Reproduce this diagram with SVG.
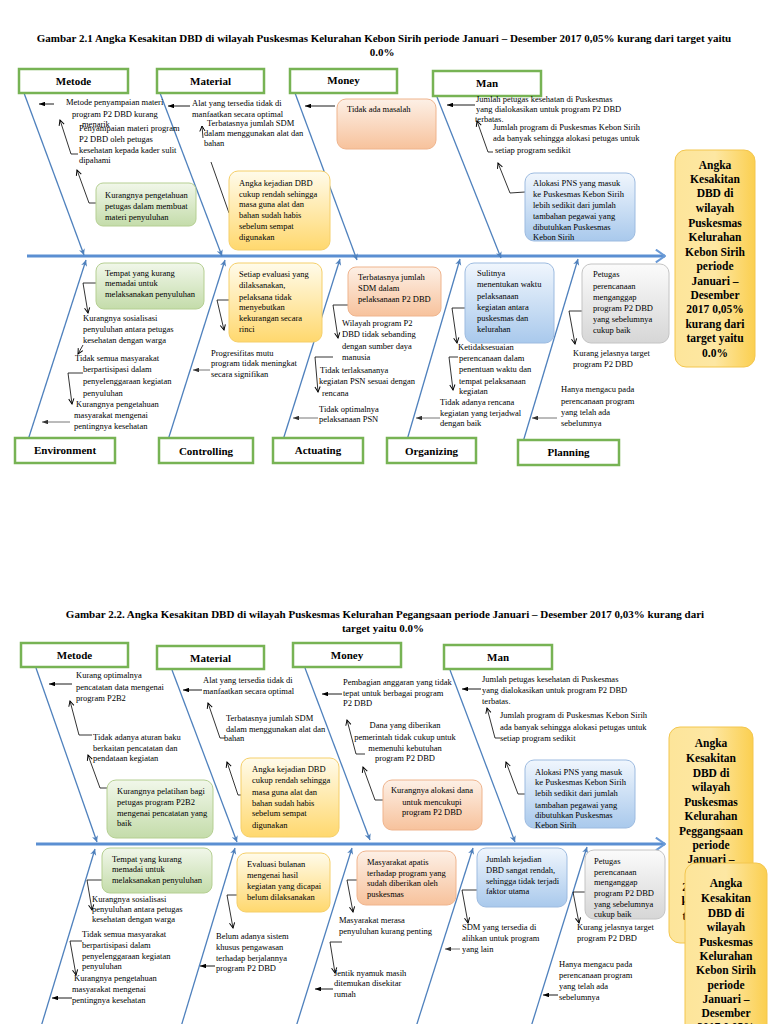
<svg xmlns="http://www.w3.org/2000/svg" width="768" height="1024" viewBox="0 0 768 1024">
<defs>
<style>
.t{font-family:"Liberation Serif","Times New Roman",serif;font-size:8.5px;fill:#000}
.tm{font-family:"Liberation Serif","Times New Roman",serif;font-size:8.5px;fill:#000;text-anchor:middle}
.h{font-family:"Liberation Serif","Times New Roman",serif;font-size:11px;font-weight:bold;fill:#000;text-anchor:middle}
.e{font-family:"Liberation Serif","Times New Roman",serif;font-size:11.5px;font-weight:bold;fill:#000;text-anchor:middle}
.ti{font-family:"Liberation Serif","Times New Roman",serif;font-size:11px;font-weight:bold;fill:#000}
.hdr{fill:#fff;stroke:#77b354;stroke-width:2.5}
.bone{stroke:#4f81bd;stroke-width:1.3;fill:none;marker-end:url(#ba)}
.spine{stroke:#5b8fd2;stroke-width:3;fill:none;marker-end:url(#sa)}
.c{stroke:#000;stroke-width:0.8;fill:none;marker-end:url(#oa)}
.ha{stroke:#000;stroke-width:0.9;fill:none;marker-end:url(#fa)}
.hg{stroke:#777;stroke-width:1;fill:none;marker-end:url(#fg)}
.ln{stroke:#000;stroke-width:0.8;fill:none}
.gb{fill:url(#gG);stroke:#b5cf92;stroke-width:1}
.yb{fill:url(#gY);stroke:#f5cf6a;stroke-width:1}
.ob{fill:url(#gO);stroke:#efb48d;stroke-width:1}
.bb{fill:url(#gB);stroke:#9dbbe0;stroke-width:1}
.sb{fill:url(#gS);stroke:#c4c4c4;stroke-width:1}
.eb{fill:url(#gE);stroke:#f3c64e;stroke-width:1}
</style>
<linearGradient id="gG" x1="0" y1="0" x2="0" y2="1"><stop offset="0" stop-color="#f1f7ea"/><stop offset="1" stop-color="#c4dcaa"/></linearGradient>
<linearGradient id="gY" x1="0" y1="0" x2="0" y2="1"><stop offset="0" stop-color="#fffbea"/><stop offset="1" stop-color="#ffd86e"/></linearGradient>
<linearGradient id="gO" x1="0" y1="0" x2="0" y2="1"><stop offset="0" stop-color="#fdf0e6"/><stop offset="1" stop-color="#f7c29c"/></linearGradient>
<linearGradient id="gB" x1="0" y1="0" x2="0" y2="1"><stop offset="0" stop-color="#f0f6fd"/><stop offset="1" stop-color="#a9c9ec"/></linearGradient>
<linearGradient id="gS" x1="0" y1="0" x2="0" y2="1"><stop offset="0" stop-color="#fbfbfb"/><stop offset="1" stop-color="#d6d6d6"/></linearGradient>
<linearGradient id="gE" x1="0" y1="0" x2="1" y2="0"><stop offset="0" stop-color="#fde59a"/><stop offset="0.5" stop-color="#fde7a3"/><stop offset="1" stop-color="#fbcf50"/></linearGradient>
<marker id="oa" viewBox="0 0 8 8" refX="7" refY="4" markerWidth="7" markerHeight="7" markerUnits="userSpaceOnUse" orient="auto"><path d="M1,1 L7,4 L1,7" fill="none" stroke="#000" stroke-width="1.1"/></marker>
<marker id="fa" viewBox="0 0 8 6" refX="8" refY="3" markerWidth="6" markerHeight="4.5" markerUnits="userSpaceOnUse" orient="auto"><path d="M0,0 L8,3 L0,6 Z" fill="#000"/></marker>
<marker id="fg" viewBox="0 0 8 6" refX="8" refY="3" markerWidth="6" markerHeight="4.5" markerUnits="userSpaceOnUse" orient="auto"><path d="M0,0 L8,3 L0,6 Z" fill="#333"/></marker>
<marker id="ba" viewBox="0 0 8 8" refX="7" refY="4" markerWidth="7" markerHeight="7" markerUnits="userSpaceOnUse" orient="auto"><path d="M0,0.5 L7,4 L0,7.5 L2,4 Z" fill="#4f81bd"/></marker>
<marker id="sa" viewBox="0 0 12 16" refX="11" refY="8" markerWidth="11" markerHeight="15" markerUnits="userSpaceOnUse" orient="auto"><path d="M1,1 L11,8 L1,15" fill="none" stroke="#6a9ad6" stroke-width="2.2"/></marker>
</defs>
<rect width="768" height="1024" fill="#fff"/>

<!-- ================= DIAGRAM 1 ================= -->
<g id="title-1">
<text class="ti" x="384" y="42" text-anchor="middle">Gambar 2.1 Angka Kesakitan DBD di wilayah Puskesmas Kelurahan Kebon Sirih periode Januari – Desember 2017 0,05%  kurang dari target yaitu</text>
<text class="ti" x="382" y="56" text-anchor="middle">0.0%</text>
</g>

<g id="connectors-1">
<path class="spine" d="M27,256 L665,256"/>
<path class="bone" d="M24,93 L84,255"/>
<path class="bone" d="M160,93 L222,256"/>
<path class="bone" d="M295,93 L357,260"/>
<path class="bone" d="M437,97 L501,258"/>
<path class="bone" d="M28,440 L86,260"/>
<path class="bone" d="M168,440 L225,260"/>
<path class="bone" d="M283,440 L340,259"/>
<path class="bone" d="M407,440 L460,259"/>
<path class="bone" d="M523,442 L578,259"/>
<path class="ha" d="M54,104 L39,104"/>
<path class="c" d="M78,154 L71,154 L60,120"/>
<path class="c" d="M96,203 L89,203 L77,170"/>
<path class="ha" d="M190,106 L168,106"/>
<path class="c" d="M203,138 L202,126"/>
<path class="ln" d="M211,162 L229,213"/>
<path class="ha" d="M335,106 L305,106"/>
<path class="ha" d="M475,105 L447,105"/>
<path class="c" d="M493,152 L488,152 L477,121"/>
<path class="c" d="M525,192 L510,193 L498,163"/>
<path class="c" d="M96,283 L83,283 L88,313"/>
<path class="c" d="M83,345 L78,354"/>
<path class="c" d="M83,373 L68,373 L72,404"/>
<path class="hg" d="M70,422 L42,422"/>
<path class="c" d="M229,300 L217,300 L224,330"/>
<path class="hg" d="M210,370 L193,370"/>
<path class="c" d="M348,305 L333,305 L338,338"/>
<path class="c" d="M333,357 L315,357 L318,392"/>
<path class="hg" d="M318,418 L293,418"/>
<path class="c" d="M465,308 L452,308 L457,343"/>
<path class="c" d="M458,357 L449,357 L453,390"/>
<path class="hg" d="M440,418 L416,418"/>
<path class="c" d="M582,311 L569,311 L575,344"/>
<path class="hg" d="M557,418 L532,418"/>
</g>

<g id="d1-metode"><rect class="hdr" x="19" y="69" width="109" height="24"/><text class="h" x="73.5" y="85">Metode</text></g>
<g id="d1-material"><rect class="hdr" x="157" y="69" width="107" height="24"/><text class="h" x="210.5" y="85">Material</text></g>
<g id="d1-money"><rect class="hdr" x="290" y="69" width="107" height="24"/><text class="h" x="343.5" y="84">Money</text></g>
<g id="d1-man"><rect class="hdr" x="433" y="71" width="108" height="25"/><text class="h" x="487" y="87">Man</text></g>
<g id="d1-environment"><rect class="hdr" x="15" y="438" width="100" height="25"/><text class="h" x="65" y="454">Environment</text></g>
<g id="d1-controlling"><rect class="hdr" x="159" y="438" width="94" height="25"/><text class="h" x="206" y="455">Controlling</text></g>
<g id="d1-actuating"><rect class="hdr" x="273" y="438" width="90" height="25"/><text class="h" x="318" y="454">Actuating</text></g>
<g id="d1-organizing"><rect class="hdr" x="387" y="438" width="89" height="25"/><text class="h" x="431.5" y="455">Organizing</text></g>
<g id="d1-planning"><rect class="hdr" x="518" y="440" width="101" height="25"/><text class="h" x="568.5" y="456">Planning</text></g>

<g id="d1-metode-c1"><text class="t"><tspan x="66" y="105">Metode penyampaian materi</tspan><tspan x="72" y="117">program P2 DBD kurang</tspan><tspan x="82" y="127">menarik</tspan></text></g>
<g id="d1-metode-c2"><text class="t"><tspan x="79" y="131">Penyampaian materi program</tspan><tspan x="79" y="142">P2 DBD oleh petugas</tspan><tspan x="79" y="153">kesehatan kepada kader sulit</tspan><tspan x="79" y="163">dipahami</tspan></text></g>
<g id="d1-metode-c3"><rect class="gb" x="96" y="183" width="100" height="43" rx="7"/><text class="t"><tspan x="105" y="198">Kurangnya pengetahuan</tspan><tspan x="105" y="209">petugas dalam membuat</tspan><tspan x="105" y="220">materi penyuluhan</tspan></text></g>

<g id="d1-material-c1"><text class="t"><tspan x="192" y="106">Alat yang tersedia tidak di</tspan><tspan x="192" y="117">manfaatkan secara optimal</tspan></text></g>
<g id="d1-material-c2"><text class="t"><tspan x="207" y="126">Terbatasnya jumlah SDM</tspan><tspan x="204" y="136">dalam menggunakan alat dan</tspan><tspan x="204" y="146">bahan</tspan></text></g>
<g id="d1-material-c3"><rect class="yb" x="229" y="171" width="101" height="79" rx="9"/><text class="t"><tspan x="239" y="186">Angka kejadian DBD</tspan><tspan x="239" y="197">cukup rendah sehingga</tspan><tspan x="239" y="207">masa guna alat dan</tspan><tspan x="239" y="218">bahan sudah habis</tspan><tspan x="239" y="229">sebelum sempat</tspan><tspan x="239" y="240">digunakan</tspan></text></g>

<g id="d1-money-c1"><rect class="ob" x="337" y="99" width="99" height="50" rx="9"/><text class="t" x="347" y="112">Tidak ada masalah</text></g>

<g id="d1-man-c1"><text class="t"><tspan x="476" y="102">Jumlah petugas kesehatan di Puskesmas</tspan><tspan x="476" y="112">yang dialokasikan untuk program P2 DBD</tspan><tspan x="475" y="122">terbatas.</tspan></text></g>
<g id="d1-man-c2"><text class="t"><tspan x="493" y="130">Jumlah program di Puskesmas Kebon Sirih</tspan><tspan x="493" y="141">ada banyak sehingga alokasi petugas untuk</tspan><tspan x="495" y="153">setiap program sedikit</tspan></text></g>
<g id="d1-man-c3"><rect class="bb" x="525" y="173" width="110" height="68" rx="9"/><text class="t"><tspan x="533" y="186">Alokasi PNS yang masuk</tspan><tspan x="533" y="197">ke Puskesmas  Kebon Sirih</tspan><tspan x="533" y="208">lebih sedikit dari jumlah</tspan><tspan x="533" y="219">tambahan pegawai yang</tspan><tspan x="533" y="230">dibutuhkan Puskesmas</tspan><tspan x="533" y="240">Kebon Sirih</tspan></text></g>

<g id="d1-effect"><rect class="eb" x="675" y="150" width="80" height="217" rx="11"/><text class="e"><tspan x="715" y="169">Angka</tspan><tspan x="715" y="183">Kesakitan</tspan><tspan x="715" y="197">DBD di</tspan><tspan x="715" y="212">wilayah</tspan><tspan x="715" y="227">Puskesmas</tspan><tspan x="715" y="241">Kelurahan</tspan><tspan x="715" y="256">Kebon Sirih</tspan><tspan x="715" y="270">periode</tspan><tspan x="715" y="285">Januari –</tspan><tspan x="715" y="299">Desember</tspan><tspan x="715" y="313">2017 0,05%</tspan><tspan x="715" y="328">kurang dari</tspan><tspan x="715" y="342">target yaitu</tspan><tspan x="715" y="357">0.0%</tspan></text></g>

<g id="d1-env-c1"><rect class="gb" x="96" y="263" width="108" height="46" rx="8"/><text class="t"><tspan x="105" y="276">Tempat yang kurang</tspan><tspan x="105" y="286">memadai untuk</tspan><tspan x="105" y="297">melaksanakan penyuluhan</tspan></text></g>
<g id="d1-env-c2"><text class="t"><tspan x="83" y="321">Kurangnya sosialisasi</tspan><tspan x="83" y="332">penyuluhan antara petugas</tspan><tspan x="83" y="343">kesehatan dengan warga</tspan></text></g>
<g id="d1-env-c3"><text class="t"><tspan x="75" y="361">Tidak semua masyarakat</tspan><tspan x="83" y="372">berpartisipasi dalam</tspan><tspan x="83" y="384">penyelenggaraan kegiatan</tspan><tspan x="83" y="396">penyuluhan</tspan></text></g>
<g id="d1-env-c4"><text class="t"><tspan x="76" y="407">Kurangnya pengetahuan</tspan><tspan x="74" y="418">masyarakat mengenai</tspan><tspan x="74" y="429">pentingnya kesehatan</tspan></text></g>

<g id="d1-ctrl-c1"><rect class="yb" x="229" y="263" width="93" height="79" rx="9"/><text class="t"><tspan x="239" y="277">Setiap evaluasi yang</tspan><tspan x="239" y="288">dilaksanakan,</tspan><tspan x="239" y="300">pelaksana tidak</tspan><tspan x="239" y="310">menyebutkan</tspan><tspan x="239" y="321">kekurangan secara</tspan><tspan x="239" y="332">rinci</tspan></text></g>
<g id="d1-ctrl-c2"><text class="t"><tspan x="211" y="356">Progresifitas mutu</tspan><tspan x="211" y="366">program tidak meningkat</tspan><tspan x="211" y="377">secara signifikan</tspan></text></g>

<g id="d1-act-c1"><rect class="ob" x="348" y="267" width="93" height="49" rx="8"/><text class="t"><tspan x="358" y="280">Terbatasnya jumlah</tspan><tspan x="358" y="291">SDM dalam</tspan><tspan x="358" y="302">pelaksanaan P2 DBD</tspan></text></g>
<g id="d1-act-c2"><text class="t"><tspan x="342" y="326">Wilayah program P2</tspan><tspan x="342" y="337">DBD tidak sebanding</tspan><tspan x="342" y="349">dengan sumber daya</tspan><tspan x="342" y="360">manusia</tspan></text></g>
<g id="d1-act-c3"><text class="t"><tspan x="320" y="373">Tidak terlaksananya</tspan><tspan x="319" y="384">kegiatan PSN sesuai dengan</tspan><tspan x="322" y="396">rencana</tspan></text></g>
<g id="d1-act-c4"><text class="t"><tspan x="319" y="412">Tidak optimalnya</tspan><tspan x="319" y="422">pelaksanaan PSN</tspan></text></g>

<g id="d1-org-c1"><rect class="bb" x="465" y="263" width="89" height="80" rx="9"/><text class="t"><tspan x="477" y="276">Sulitnya</tspan><tspan x="477" y="287">menentukan waktu</tspan><tspan x="477" y="299">pelaksanaan</tspan><tspan x="477" y="310">kegiatan antara</tspan><tspan x="477" y="321">puskesmas dan</tspan><tspan x="477" y="332">kelurahan</tspan></text></g>
<g id="d1-org-c2"><text class="t"><tspan x="458" y="350">Ketidaksesuaian</tspan><tspan x="459" y="361">perencanaan dalam</tspan><tspan x="459" y="372">penentuan waktu dan</tspan><tspan x="459" y="384">tempat pelaksanaan</tspan><tspan x="459" y="394">kegiatan</tspan></text></g>
<g id="d1-org-c3"><text class="t"><tspan x="440" y="405">Tidak adanya rencana</tspan><tspan x="440" y="416">kegiatan yang terjadwal</tspan><tspan x="440" y="426">dengan baik</tspan></text></g>

<g id="d1-plan-c1"><rect class="sb" x="582" y="264" width="87" height="79" rx="9"/><text class="t"><tspan x="593" y="277">Petugas</tspan><tspan x="593" y="289">perencanaan</tspan><tspan x="593" y="300">menganggap</tspan><tspan x="593" y="311">program P2 DBD</tspan><tspan x="593" y="322">yang sebelumnya</tspan><tspan x="593" y="333">cukup baik</tspan></text></g>
<g id="d1-plan-c2"><text class="t"><tspan x="573" y="356">Kurang jelasnya target</tspan><tspan x="573" y="367">program P2 DBD</tspan></text></g>
<g id="d1-plan-c3"><text class="t"><tspan x="561" y="392">Hanya mengacu pada</tspan><tspan x="561" y="404">perencanaan program</tspan><tspan x="561" y="415">yang telah ada</tspan><tspan x="561" y="426">sebelumnya</tspan></text></g>

<!-- ================= DIAGRAM 2 ================= -->
<g id="title-2">
<text class="ti" x="385" y="618" text-anchor="middle">Gambar 2.2. Angka Kesakitan DBD di wilayah Puskesmas Kelurahan Pegangsaan periode Januari – Desember 2017 0,03%  kurang dari</text>
<text class="ti" x="383" y="632" text-anchor="middle">target yaitu 0.0%</text>
</g>

<g id="connectors-2">
<path class="spine" d="M36,844 L665,844"/>
<path class="bone" d="M36,668 L97,842"/>
<path class="bone" d="M172,670 L237,842"/>
<path class="bone" d="M305,668 L370,840"/>
<path class="bone" d="M450,670 L515,842"/>
<path class="bone" d="M40,1030 L95,849"/>
<path class="bone" d="M180,1030 L235,848"/>
<path class="bone" d="M295,1030 L352,848"/>
<path class="bone" d="M415,1030 L473,848"/>
<path class="bone" d="M530,1030 L587,847"/>
<path class="ha" d="M72,684 L49,684"/>
<path class="c" d="M92,735 L79,735 L70,701"/>
<path class="c" d="M107,788 L100,788 L88,755"/>
<path class="ha" d="M202,690 L183,690"/>
<path class="c" d="M225,738 L220,738 L208,703"/>
<path class="c" d="M241,795 L238,795 L227,762"/>
<path class="ha" d="M342,694 L322,694"/>
<path class="c" d="M365,754 L356,754 L347,720"/>
<path class="c" d="M383,800 L375,800 L363,767"/>
<path class="ha" d="M481,689 L462,689"/>
<path class="c" d="M500,738 L495,738 L487,708"/>
<path class="c" d="M525,794 L518,794 L506,762"/>
<path class="c" d="M102,880 L87,880 L92,910"/>
<path class="c" d="M82,941 L70,941 L76,975"/>
<path class="ha" d="M72,998 L52,998"/>
<path class="c" d="M237,895 L227,895 L233,928"/>
<path class="ha" d="M215,966 L200,966"/>
<path class="c" d="M357,880 L347,880 L353,912"/>
<path class="c" d="M342,942 L330,942 L335,973"/>
<path class="ha" d="M333,989 L315,989"/>
<path class="c" d="M477,890 L462,890 L468,923"/>
<path class="hg" d="M460,949 L445,949"/>
<path class="c" d="M585,892 L573,892 L579,923"/>
<path class="ha" d="M558,995 L543,995"/>
</g>

<g id="d2-metode"><rect class="hdr" x="21" y="643" width="107" height="24"/><text class="h" x="74.5" y="659">Metode</text></g>
<g id="d2-material"><rect class="hdr" x="157" y="646" width="107" height="23"/><text class="h" x="210.5" y="662">Material</text></g>
<g id="d2-money"><rect class="hdr" x="293" y="643" width="108" height="24"/><text class="h" x="347" y="659">Money</text></g>
<g id="d2-man"><rect class="hdr" x="444" y="645" width="108" height="24"/><text class="h" x="498" y="661">Man</text></g>

<g id="d2-metode-c1"><text class="t"><tspan x="76" y="678">Kurang optimalnya</tspan><tspan x="76" y="690">pencatatan data mengenai</tspan><tspan x="76" y="701">program P2B2</tspan></text></g>
<g id="d2-metode-c2"><text class="t"><tspan x="93" y="740">Tidak adanya aturan baku</tspan><tspan x="93" y="751">berkaitan pencatatan dan</tspan><tspan x="93" y="761">pendataan kegiatan</tspan></text></g>
<g id="d2-metode-c3"><rect class="gb" x="107" y="780" width="106" height="58" rx="9"/><text class="t"><tspan x="117" y="794">Kurangnya pelatihan bagi</tspan><tspan x="117" y="805">petugas program P2B2</tspan><tspan x="117" y="816">mengenai pencatatan yang</tspan><tspan x="117" y="826">baik</tspan></text></g>

<g id="d2-material-c1"><text class="t"><tspan x="203" y="683">Alat yang tersedia tidak di</tspan><tspan x="203" y="694">manfaatkan secara optimal</tspan></text></g>
<g id="d2-material-c2"><text class="t"><tspan x="226" y="721">Terbatasnya jumlah SDM</tspan><tspan x="226" y="732">dalam menggunakan alat dan</tspan><tspan x="224" y="741">bahan</tspan></text></g>
<g id="d2-material-c3"><rect class="yb" x="241" y="758" width="98" height="79" rx="9"/><text class="t"><tspan x="252" y="772">Angka kejadian DBD</tspan><tspan x="252" y="783">cukup rendah sehingga</tspan><tspan x="252" y="795">masa guna alat dan</tspan><tspan x="252" y="806">bahan sudah habis</tspan><tspan x="252" y="816">sebelum sempat</tspan><tspan x="252" y="828">digunakan</tspan></text></g>

<g id="d2-money-c1"><text class="t"><tspan x="343" y="685">Pembagian anggaran yang tidak</tspan><tspan x="343" y="696">tepat untuk berbagai program</tspan><tspan x="343" y="706">P2 DBD</tspan></text></g>
<g id="d2-money-c2"><text class="tm"><tspan x="405" y="728">Dana yang diberikan</tspan><tspan x="405" y="740">pemerintah tidak cukup untuk</tspan><tspan x="405" y="751">memenuhi kebutuhan</tspan><tspan x="405" y="761">program P2 DBD</tspan></text></g>
<g id="d2-money-c3"><rect class="ob" x="383" y="780" width="99" height="50" rx="9"/><text class="tm"><tspan x="432" y="793">Kurangnya alokasi dana</tspan><tspan x="432" y="805">untuk mencukupi</tspan><tspan x="432" y="815">program P2 DBD</tspan></text></g>

<g id="d2-man-c1"><text class="t"><tspan x="482" y="682">Jumlah petugas kesehatan di Puskesmas</tspan><tspan x="482" y="693">yang dialokasikan untuk program P2 DBD</tspan><tspan x="482" y="704">terbatas.</tspan></text></g>
<g id="d2-man-c2"><text class="t"><tspan x="500" y="718">Jumlah program di Puskesmas Kebon Sirih</tspan><tspan x="500" y="730">ada banyak sehingga alokasi petugas untuk</tspan><tspan x="500" y="741">setiap program sedikit</tspan></text></g>
<g id="d2-man-c3"><rect class="bb" x="525" y="760" width="110" height="68" rx="9"/><text class="t"><tspan x="535" y="775">Alokasi PNS yang masuk</tspan><tspan x="535" y="785">ke Puskesmas  Kebon Sirih</tspan><tspan x="535" y="796">lebih sedikit dari jumlah</tspan><tspan x="535" y="808">tambahan pegawai yang</tspan><tspan x="535" y="818">dibutuhkan Puskesmas</tspan><tspan x="535" y="828">Kebon Sirih</tspan></text></g>

<g id="d2-env-c1"><rect class="gb" x="102" y="848" width="110" height="45" rx="8"/><text class="t"><tspan x="112" y="862">Tempat yang kurang</tspan><tspan x="112" y="872">memadai untuk</tspan><tspan x="112" y="883">melaksanakan penyuluhan</tspan></text></g>
<g id="d2-env-c2"><text class="t"><tspan x="92" y="902">Kurangnya sosialisasi</tspan><tspan x="92" y="912">penyuluhan antara petugas</tspan><tspan x="92" y="922">kesehatan dengan warga</tspan></text></g>
<g id="d2-env-c3"><text class="t"><tspan x="82" y="937">Tidak semua masyarakat</tspan><tspan x="82" y="948">berpartisipasi dalam</tspan><tspan x="82" y="959">penyelenggaraan kegiatan</tspan><tspan x="82" y="969">penyuluhan</tspan></text></g>
<g id="d2-env-c4"><text class="t"><tspan x="74" y="981">Kurangnya pengetahuan</tspan><tspan x="72" y="992">masyarakat mengenai</tspan><tspan x="72" y="1003">pentingnya kesehatan</tspan></text></g>

<g id="d2-ctrl-c1"><rect class="yb" x="237" y="853" width="93" height="59" rx="9"/><text class="t"><tspan x="247" y="867">Evaluasi bulanan</tspan><tspan x="247" y="878">mengenai hasil</tspan><tspan x="247" y="889">kegiatan yang dicapai</tspan><tspan x="247" y="900">belum dilaksanakan</tspan></text></g>
<g id="d2-ctrl-c2"><text class="t"><tspan x="216" y="939">Belum adanya sistem</tspan><tspan x="216" y="950">khusus pengawasan</tspan><tspan x="216" y="961">terhadap berjalannya</tspan><tspan x="216" y="971">program P2 DBD</tspan></text></g>

<g id="d2-act-c1"><rect class="ob" x="357" y="851" width="99" height="54" rx="9"/><text class="t"><tspan x="367" y="865">Masyarakat apatis</tspan><tspan x="367" y="876">terhadap program yang</tspan><tspan x="367" y="886">sudah diberikan oleh</tspan><tspan x="367" y="897">puskesmas</tspan></text></g>
<g id="d2-act-c2"><text class="t"><tspan x="339" y="923">Masyarakat merasa</tspan><tspan x="339" y="934">penyuluhan kurang penting</tspan></text></g>
<g id="d2-act-c3"><text class="t"><tspan x="334" y="976">Jentik nyamuk masih</tspan><tspan x="334" y="986">ditemukan disekitar</tspan><tspan x="334" y="997">rumah</tspan></text></g>

<g id="d2-org-c1"><rect class="bb" x="477" y="848" width="90" height="59" rx="9"/><text class="t"><tspan x="486" y="862">Jumlah kejadian</tspan><tspan x="486" y="873">DBD sangat rendah,</tspan><tspan x="486" y="884">sehingga tidak terjadi</tspan><tspan x="486" y="894">faktor utama</tspan></text></g>
<g id="d2-org-c2"><text class="t"><tspan x="462" y="930">SDM yang tersedia di</tspan><tspan x="462" y="941">alihkan untuk program</tspan><tspan x="462" y="952">yang lain</tspan></text></g>

<g id="d2-plan-c1"><rect class="sb" x="585" y="850" width="80" height="69" rx="9"/><text class="t"><tspan x="594" y="864">Petugas</tspan><tspan x="594" y="875">perencanaan</tspan><tspan x="594" y="885">menganggap</tspan><tspan x="594" y="896">program P2 DBD</tspan><tspan x="594" y="907">yang sebelumnya</tspan><tspan x="594" y="917">cukup baik</tspan></text></g>
<g id="d2-plan-c2"><text class="t"><tspan x="577" y="930">Kurang jelasnya target</tspan><tspan x="577" y="941">program P2 DBD</tspan></text></g>
<g id="d2-plan-c3"><text class="t"><tspan x="559" y="967">Hanya mengacu pada</tspan><tspan x="559" y="978">perencanaan program</tspan><tspan x="559" y="989">yang telah ada</tspan><tspan x="559" y="1000">sebelumnya</tspan></text></g>

<g id="d2-effect-a"><rect class="eb" x="669" y="727" width="84" height="216" rx="11"/><text class="e"><tspan x="711" y="747">Angka</tspan><tspan x="711" y="762">Kesakitan</tspan><tspan x="711" y="777">DBD di</tspan><tspan x="711" y="791">wilayah</tspan><tspan x="711" y="806">Puskesmas</tspan><tspan x="711" y="820">Kelurahan</tspan><tspan x="711" y="835">Peggangsaan</tspan><tspan x="711" y="849">periode</tspan><tspan x="711" y="863">Januari –</tspan><tspan x="711" y="877">Desember</tspan><tspan x="711" y="891">2017 0,03%</tspan><tspan x="711" y="905">kurang dari</tspan><tspan x="711" y="920">target yaitu</tspan><tspan x="711" y="934">0.0%</tspan></text></g>
<g id="d2-effect-b"><rect class="eb" x="685" y="863" width="82" height="180" rx="11"/><text class="e"><tspan x="726" y="887">Angka</tspan><tspan x="726" y="902">Kesakitan</tspan><tspan x="726" y="917">DBD di</tspan><tspan x="726" y="931">wilayah</tspan><tspan x="726" y="946">Puskesmas</tspan><tspan x="726" y="960">Kelurahan</tspan><tspan x="726" y="974">Kebon Sirih</tspan><tspan x="726" y="989">periode</tspan><tspan x="726" y="1003">Januari –</tspan><tspan x="726" y="1017">Desember</tspan><tspan x="726" y="1031">2017 0,05%</tspan></text></g>
</svg>
